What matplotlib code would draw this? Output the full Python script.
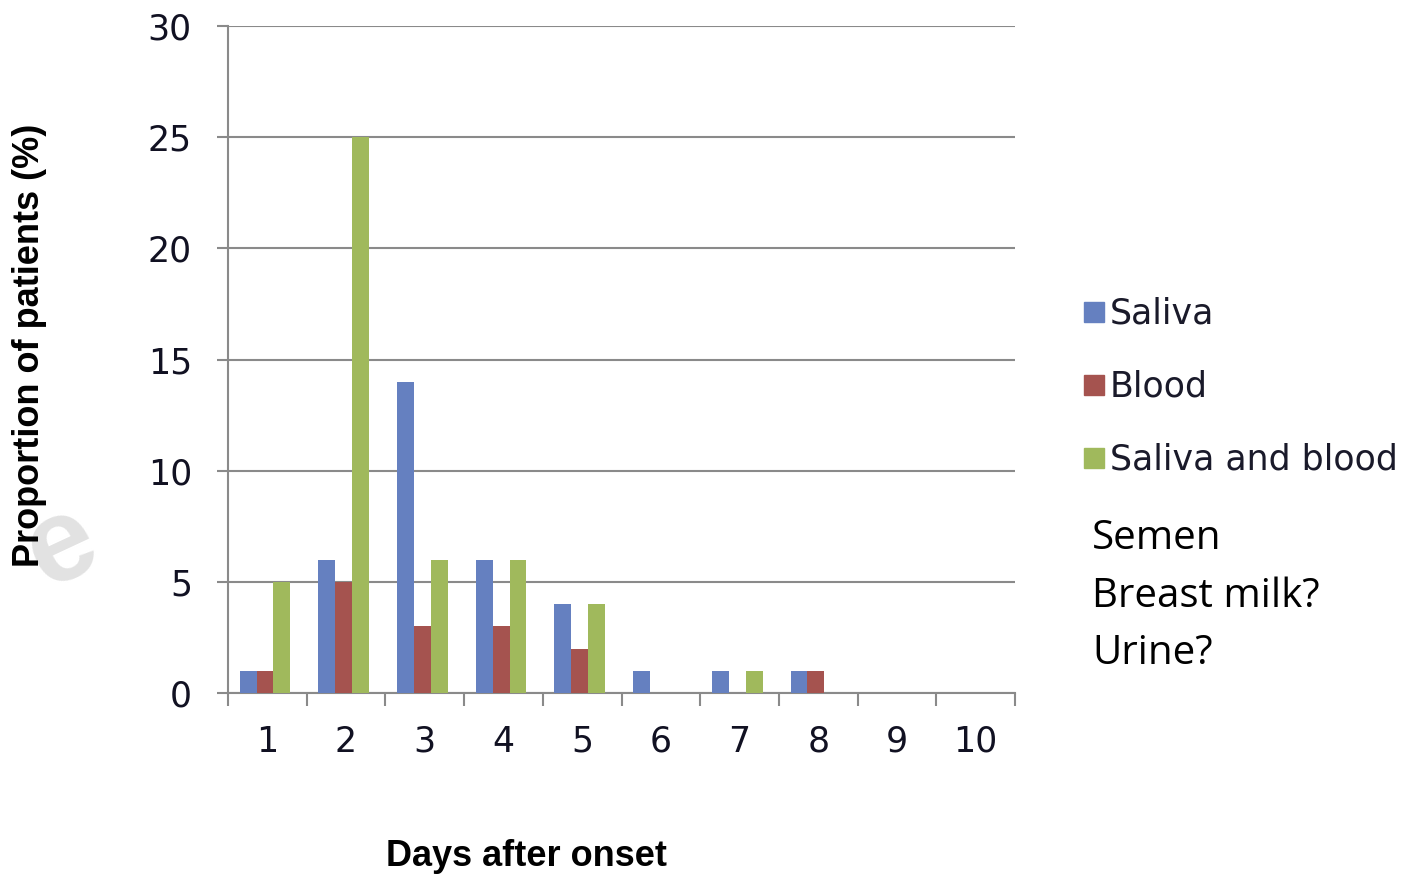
import matplotlib
matplotlib.use("Agg")
import matplotlib.pyplot as plt
import numpy as np

days = ["1", "2", "3", "4", "5", "6", "7", "8", "9", "10"]
saliva = [1, 6, 14, 6, 4, 1, 1, 1, 0, 0]
blood = [1, 5, 3, 3, 2, 0, 0, 1, 0, 0]
saliva_blood = [5, 25, 6, 6, 4, 0, 1, 0, 0, 0]
series_names = ["Saliva", "Blood", "Saliva and blood"]
colors = ["#6580C0", "#A5534F", "#A0B95C"]
extra_lines = ["Semen", "Breast milk?", "Urine?"]

fig = plt.figure(figsize=(14.18, 8.76), dpi=100)

fig.text(62/1418, 1-548/876, "e", rotation=25, ha="center", va="center", fontsize=85,
         fontweight="bold", color="#e2e2e2", zorder=0, family="Liberation Sans")

ax = fig.add_axes([228/1418, 1-693/876, (1015-228)/1418, (693-26)/876])
ax.patch.set_alpha(0)

x = np.arange(len(days))
w = 0.215
grid_c = "#8a8a8a"
for i, (vals, c, name) in enumerate(zip([saliva, blood, saliva_blood], colors, series_names)):
    ax.bar(x + (i - 1) * w - 0.03, vals, width=w, color=c, label=name, zorder=3)

ax.set_xlim(-0.5, len(days) - 0.5)
ax.set_ylim(0, 30)
ax.set_yticks(range(0, 31, 5))
ax.yaxis.grid(True, color=grid_c, linewidth=1.5, zorder=0)
ax.set_axisbelow(True)
for s in ["top", "right"]:
    ax.spines[s].set_visible(False)
ax.spines["left"].set_color(grid_c)
ax.spines["bottom"].set_color(grid_c)
ax.spines["left"].set_linewidth(1.5)
ax.spines["bottom"].set_linewidth(1.5)

ax.set_xticks(np.arange(-0.5, len(days) + 0.5, 1.0))
ax.set_xticklabels([])
ax.set_xticks(x, minor=True)
ax.set_xticklabels(days, minor=True)
ax.tick_params(axis="x", which="major", length=9, width=1.5, color=grid_c, direction="out")
ax.tick_params(axis="x", which="minor", length=0, labelsize=25, pad=23, colors="#111122")
ax.tick_params(axis="y", length=8, width=1.5, color=grid_c, labelsize=25, pad=18, labelcolor="#111122")

fig.text(30/1418, 1-345/876, "Proportion of patients (%)", rotation=90, ha="center", va="center",
         fontsize=26, fontweight="bold", family="Liberation Sans")
fig.text(527/1418, 1-857/876, "Days after onset", ha="center", va="center",
         fontsize=26, fontweight="bold", family="Liberation Sans")

leg_y = [313, 386, 459]
for name, c, yy in zip(series_names, colors, leg_y):
    fig.patches.append(plt.Rectangle((1084/1418, 1-(yy+9)/876), 20/1418, 20/876,
                                     transform=fig.transFigure, color=c))
    fig.text(1110/1418, 1-yy/876, name, ha="left", va="center", fontsize=25, color="#1a1a2a")

for t, yy in zip(extra_lines, [539, 597, 654]):
    fig.text(1092/1418, 1-yy/876, t, ha="left", va="center", fontsize=29, family="Open Sans")

fig.savefig("out.png", dpi=100)
